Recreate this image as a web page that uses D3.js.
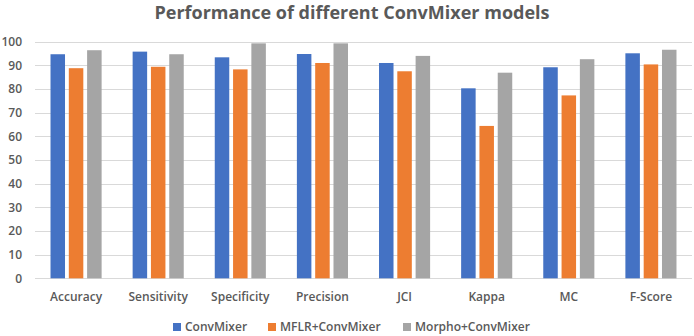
<!DOCTYPE html>
<meta charset="utf-8">
<style>
  body { margin: 0; background: white; }
  svg { font-family: "Open Sans", "Liberation Sans", sans-serif; }
  .grid line { stroke: #d9d9d9; }
  .tick-label { fill: #595959; font-size: 12px; font-weight: 600; }
</style>
<body>
</body>
<script src="https://cdn.jsdelivr.net/npm/d3@7"></script>
<script>
  const categories = ['Accuracy', 'Sensitivity', 'Specificity', 'Precision', 'JCI', 'Kappa', 'MC', 'F-Score'];
  const seriesNames = ['ConvMixer', 'MFLR+ConvMixer', 'Morpho+ConvMixer'];
  const convMixer = [94.7, 95.8, 93.4, 94.8, 91.0, 80.3, 89.2, 95.1];
  const mflrConvMixer = [88.8, 89.4, 88.3, 91.0, 87.5, 64.4, 77.3, 90.4];
  const morphoConvMixer = [96.4, 94.7, 99.3, 99.3, 94.0, 86.9, 92.6, 96.6];
  const yTicks = [0, 10, 20, 30, 40, 50, 60, 70, 80, 90, 100];
  const colors = ['#4472c4', '#ed7d31', '#a5a5a5'];

  const w = 694, h = 336;
  const l = 35, r = 692, t = 41.7, b = 278.3;

  const svg = d3.select('body').append('svg')
    .attr('width', w)
    .attr('height', h);

  const x = d3.scaleBand().domain(categories).range([l, r]);
  const y = d3.scaleLinear().domain([0, 100]).range([b, t]);

  // gridlines
  svg.append('g').attr('class', 'grid')
    .selectAll('line')
    .data(yTicks)
    .join('line')
    .attr('x1', l).attr('x2', r)
    .attr('y1', d => Math.round(y(d)) + 0.5).attr('y2', d => Math.round(y(d)) + 0.5)
    .attr('stroke', d => d === 0 ? '#c8c8c8' : '#d9d9d9');

  // y labels
  svg.append('g')
    .selectAll('text')
    .data(yTicks)
    .join('text')
    .attr('class', 'tick-label')
    .attr('x', 22)
    .attr('y', d => y(d))
    .attr('dy', '0.35em')
    .attr('text-anchor', 'end')
    .text(d => d);

  // bars
  const seriesData = [convMixer, mflrConvMixer, morphoConvMixer];
  const bw = 14.5, gap = 3.8;
  const groupW = bw * 3 + gap * 2;
  seriesData.forEach((vals, si) => {
    svg.append('g')
      .attr('fill', colors[si])
      .selectAll('rect')
      .data(vals)
      .join('rect')
      .attr('x', (d, i) => x(categories[i]) + x.bandwidth() / 2 - groupW / 2 + si * (bw + gap))
      .attr('width', bw)
      .attr('y', d => y(d))
      .attr('height', d => y(0) - y(d));
  });

  // category labels
  svg.append('g')
    .selectAll('text')
    .data(categories)
    .join('text')
    .attr('class', 'tick-label')
    .attr('x', d => x(d) + x.bandwidth() / 2)
    .attr('y', 301)
    .attr('text-anchor', 'middle')
    .text(d => d);

  // title
  svg.append('text')
    .attr('x', 352)
    .attr('y', 19)
    .attr('text-anchor', 'middle')
    .attr('fill', '#595959')
    .attr('font-size', 18)
    .attr('font-weight', 700)
    .text('Performance of different ConvMixer models');

  // legend
  const legendX = [173, 268, 403];
  const lg = svg.append('g');
  const item = lg.selectAll('g')
    .data(seriesNames)
    .join('g')
    .attr('transform', (d, i) => `translate(${legendX[i]}, 327)`);
  item.append('rect')
    .attr('y', -4).attr('width', 8).attr('height', 8)
    .attr('fill', (d, i) => colors[i]);
  item.append('text')
    .attr('class', 'tick-label')
    .attr('x', 12)
    .attr('dy', '0.35em')
    .text(d => d);
</script>
